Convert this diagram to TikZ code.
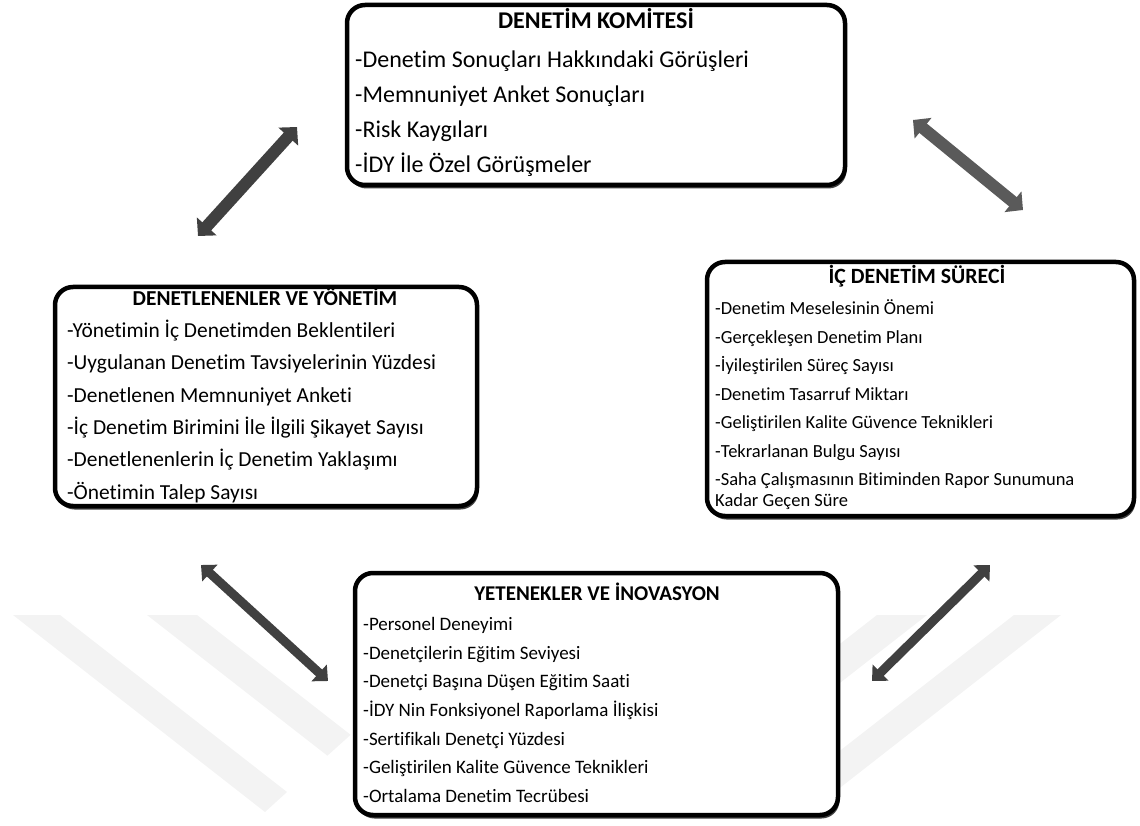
\documentclass[tikz,border=0pt]{standalone}
\usepackage{fontspec}
\setmainfont{Carlito}[Ligatures=CommonOff]
\usetikzlibrary{arrows.meta,shadows}
\definecolor{arrowdark}{HTML}{404040}
\definecolor{arrowmid}{HTML}{5A5A5A}
\definecolor{wmark}{HTML}{F3F3F3}

\begin{document}
\begin{tikzpicture}[x=1pt,y=-1pt,
  panel/.style={draw=black, line width=4.5pt, rounded corners=18pt, fill=white,
    inner sep=0pt, drop shadow={shadow xshift=1.5pt, shadow yshift=-3.5pt, fill=black!75, opacity=1}},
  title/.style={inner sep=0pt, font=\bfseries\fontsize{#1}{#1}\selectfont,
    text height=0.7*#1 pt, text depth=0.2*#1 pt},
  item/.style={anchor=west, inner sep=0pt, font=\fontsize{#1}{#1}\selectfont,
    text height=0.7*#1 pt, text depth=0.2*#1 pt},
  bigarrow/.style={line width=12pt, {Triangle[length=13pt,width=26pt]}-{Triangle[length=13pt,width=26pt]}},
  smallarrow/.style={line width=9pt, {Triangle[length=12pt,width=22pt]}-{Triangle[length=12pt,width=22pt]}}
]
\useasboundingbox (0,0) rectangle (1140,826);

% faint background bands, cut at their lower ends by a common slant
\begin{scope}[fill=wmark]
  \fill (13,615) -- (60,615) -- (287,792) -- (265,812) -- cycle;
  \fill (147,615) -- (197,615) -- (350.6,734.8) -- (327.4,755.7) -- cycle;
  \fill (1061,615) -- (1014,615) -- (787,792) -- (809,812) -- cycle;
  \fill (927,615) -- (877,615) -- (723.4,734.8) -- (746.6,755.7) -- cycle;
\end{scope}

% panels
\node[panel, minimum width=498pt, minimum height=180pt] (dk) at (596,95) {};
\node[panel, minimum width=422pt, minimum height=219pt] (dy) at (266,396.5) {};
\node[panel, minimum width=427pt, minimum height=254pt] (ids) at (920.5,389) {};
\node[panel, minimum width=483pt, minimum height=242pt] (yi) at (596.5,694) {};

% DENETİM KOMİTESİ
\node[title=24] (dk-t) at (596,23) {DENETİM KOMİTESİ};
\foreach \t [count=\i] in {-Denetim Sonuçları Hakkındaki Görüşleri,
  -Memnuniyet Anket Sonuçları, -Risk Kaygıları, -İDY İle Özel Görüşmeler}
  \node[item=24] (dk-\i) at (355,{62+35*(\i-1)}) {\t};

% DENETLENENLER VE YÖNETİM
\node[title=21.3] (dy-t) at (265,300) {DENETLENENLER VE YÖNETİM};
\foreach \t [count=\i] in {-Yönetimin İç Denetimden Beklentileri,
  -Uygulanan Denetim Tavsiyelerinin Yüzdesi, -Denetlenen Memnuniyet Anketi,
  -İç Denetim Birimini İle İlgili Şikayet Sayısı,
  -Denetlenenlerin İç Denetim Yaklaşımı, -Önetimin Talep Sayısı}
  \node[item=21.4] (dy-\i) at (67,{332+32.4*(\i-1)}) {\t};

% İÇ DENETİM SÜRECİ
\node[title=21.8] (ids-t) at (917,278) {İÇ DENETİM SÜRECİ};
\foreach \t [count=\i] in {-Denetim Meselesinin Önemi, -Gerçekleşen Denetim Planı,
  -İyileştirilen Süreç Sayısı, -Denetim Tasarruf Miktarı,
  -Geliştirilen Kalite Güvence Teknikleri, -Tekrarlanan Bulgu Sayısı,
  -Saha Çalışmasının Bitiminden Rapor Sunumuna}
  \node[item=18.5] (ids-\i) at (715,{310+28.5*(\i-1)}) {\t};
\node[item=18.5] (ids-8) at (715,502) {Kadar Geçen Süre};

% YETENEKLER VE İNOVASYON
\node[title=21] (yi-t) at (597,595) {YETENEKLER VE İNOVASYON};
\foreach \t [count=\i] in {-Personel Deneyimi, -Denetçilerin Eğitim Seviyesi,
  -Denetçi Başına Düşen Eğitim Saati, -İDY Nin Fonksiyonel Raporlama İlişkisi,
  -Sertifikalı Denetçi Yüzdesi, -Geliştirilen Kalite Güvence Teknikleri,
  -Ortalama Denetim Tecrübesi}
  \node[item=19] (yi-\i) at (363,{626+28.6*(\i-1)}) {\t};

% two-way arrows between the panels
\coordinate (a1) at (198,236); \coordinate (a2) at (297,127);
\coordinate (b1) at (913,120); \coordinate (b2) at (1023,210);
\coordinate (c1) at (201,565); \coordinate (c2) at (328,681);
\coordinate (d1) at (990,565); \coordinate (d2) at (872,681);
\draw[bigarrow, draw=arrowdark, fill=arrowdark] (a1) -- (a2);
\draw[bigarrow, draw=arrowmid, fill=arrowmid] (b1) -- (b2);
\draw[smallarrow, draw=arrowdark, fill=arrowdark] (c1) -- (c2);
\draw[smallarrow, draw=arrowdark, fill=arrowdark] (d1) -- (d2);
\end{tikzpicture}
\end{document}
